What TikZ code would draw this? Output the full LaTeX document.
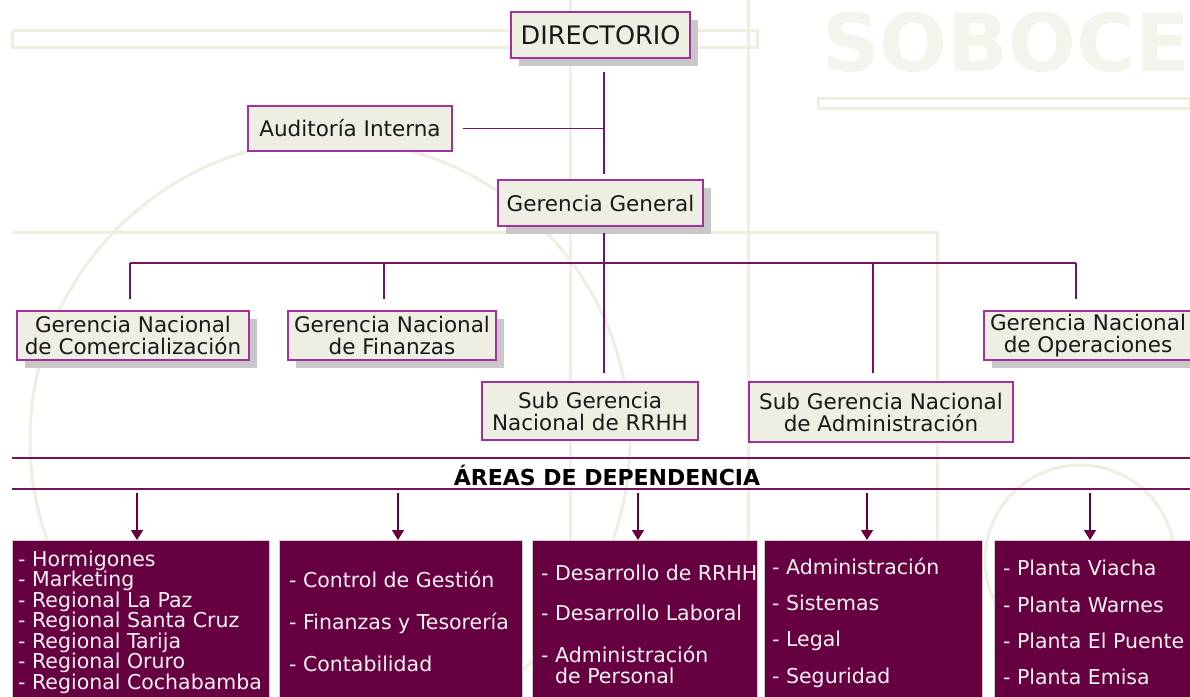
\documentclass[tikz,border=0pt]{standalone}
\usepackage{fontspec}
\setmainfont{DejaVu Sans}
\usetikzlibrary{arrows.meta,shadows,calc}
\definecolor{boxfill}{HTML}{EEEEE2}
\definecolor{boxline}{HTML}{A3309C}
\definecolor{conn}{HTML}{7A1060}
\definecolor{dark}{HTML}{660040}
\definecolor{wm}{HTML}{EEEEE1}
\definecolor{wmtext}{HTML}{F4F4EC}
\definecolor{shade}{HTML}{C8C8C8}
\definecolor{lighttext}{HTML}{F6F2F2}
\begin{document}
\begin{tikzpicture}[x=1pt,y=-1pt,
  orgbox/.style={draw=boxline, line width=1.6pt, fill=boxfill, align=center, inner sep=0pt, text=black!90, font=\fontsize{21.5}{22}\selectfont},
  shadowed/.style={general shadow={fill=shade, shadow xshift=8pt, shadow yshift=-8pt}},
  link/.style={draw=conn, line width=1.4pt},
  arrowlink/.style={draw=dark, line width=1.6pt, -{Triangle[width=12pt,length=10pt]}},
  darkbox/.style={fill=dark, draw=black!20, line width=0.8pt, anchor=north west, inner sep=0pt},
  listtext/.style={text=lighttext, align=left, anchor=west, inner sep=0pt, font=\fontsize{20.5}{20.5}\selectfont},
  wmline/.style={draw=wm, line width=3pt}
]
\useasboundingbox (0,0) rectangle (1190,696);
\fill[white] (0,0) rectangle (1190,696);
% watermark
\draw[wmline] (12,30) rectangle (757,47);
\draw[wmline] (818,98) rectangle (1190,108);
\draw[wmline] (12,232) -- (937,232) -- (937,696);
\draw[wmline] (748,0) -- (748,696);
\draw[wmline] (570,0) -- (570,696);
\draw[wmline] (330,440) circle (300);
\draw[wmline] (1080,560) circle (95);
\node[text=wmtext, inner sep=0pt, font=\bfseries\fontsize{80}{80}\selectfont] (logo) at (1006,42) {SOBOCE};
% org boxes
\node[orgbox, shadowed, minimum width=179pt, minimum height=46pt, font=\fontsize{25.5}{26}\selectfont] (dir) at (600.5,35) {DIRECTORIO};
\node[orgbox, minimum width=204pt, minimum height=45pt] (aud) at (350,128.5) {Auditoría Interna};
\node[orgbox, shadowed, minimum width=205pt, minimum height=46pt] (gg) at (600.5,203) {Gerencia General};
\node[orgbox, shadowed, minimum width=232pt, minimum height=49pt] (gnc) at (133,335.5) {Gerencia Nacional\\de Comercialización};
\node[orgbox, shadowed, minimum width=208pt, minimum height=49pt] (gnf) at (392,335.5) {Gerencia Nacional\\de Finanzas};
\node[orgbox, shadowed, minimum width=208pt, minimum height=49pt] (gno) at (1088,335.5) {Gerencia Nacional\\de Operaciones};
\node[orgbox, minimum width=216pt, minimum height=58pt] (rrhh) at (590,411) {Sub Gerencia\\Nacional de RRHH};
\node[orgbox, minimum width=264pt, minimum height=60pt] (adm) at (881,412) {Sub Gerencia Nacional\\de Administración};
% connectors
\coordinate (d1) at (604,72);
\coordinate (g1) at (604,174);
\draw[link] (d1) -- (g1);
\draw[link] ([xshift=10pt]aud.east) -- (aud.east -| d1);
\coordinate (hL) at (130,263);
\coordinate (hF) at (384,263);
\coordinate (hA) at (873,263);
\coordinate (hR) at (1076,263);
\draw[link] (hL) -- (hR);
\draw[link] ([yshift=-6pt]gg.south -| d1) -- ([yshift=8pt]rrhh.north -| d1);
\draw[link] (hL) -- ([yshift=11pt]gnc.north -| hL);
\draw[link] (hF) -- ([yshift=11pt]gnf.north -| hF);
\draw[link] (hR) -- ([yshift=11pt]gno.north -| hR);
\draw[link] (hA) -- ([yshift=8pt]adm.north -| hA);
% areas de dependencia
\coordinate (la1) at (12,458);
\coordinate (lb1) at (1190,458);
\coordinate (la2) at (12,489);
\coordinate (lb2) at (1190,489);
\draw[link] (la1) -- (lb1);
\draw[link] (la2) -- (lb2);
\node[inner sep=0pt, font=\bfseries\fontsize{22}{22}\selectfont, text=black] (title) at (607,475) {ÁREAS DE DEPENDENCIA};
% dark boxes
\node[darkbox, minimum width=257pt, minimum height=170pt] (b1) at (12,540) {};
\node[darkbox, minimum width=243pt, minimum height=170pt] (b2) at (279,540) {};
\node[darkbox, minimum width=225pt, minimum height=170pt] (b3) at (532,540) {};
\node[darkbox, minimum width=218pt, minimum height=170pt] (b4) at (764,540) {};
\node[darkbox, minimum width=210pt, minimum height=170pt] (b5) at (994,540) {};
% arrows
\coordinate (a1) at (137,493);
\coordinate (a2) at (398,493);
\coordinate (a3) at (638,493);
\coordinate (a4) at (867,493);
\coordinate (a5) at (1090,493);
\draw[arrowlink] (a1) -- (a1 |- b1.north);
\draw[arrowlink] (a2) -- (a2 |- b2.north);
\draw[arrowlink] (a3) -- (a3 |- b3.north);
\draw[arrowlink] (a4) -- (a4 |- b4.north);
\draw[arrowlink] (a5) -- (a5 |- b5.north);
% list texts
\node[listtext] (t1) at (18,622) {- Hormigones\\- Marketing\\- Regional La Paz\\- Regional Santa Cruz\\- Regional Tarija\\- Regional Oruro\\- Regional Cochabamba};
\node[listtext] (t2) at (289,621.5) {- Control de Gestión\\[21.5pt]- Finanzas y Tesorería\\[21.5pt]- Contabilidad};
\node[listtext] (t3) at (541,624.5) {- Desarrollo de RRHH\\[19.5pt]- Desarrollo Laboral\\[21.5pt]- Administración\\\hspace*{14pt}de Personal};
\node[listtext] (t4) at (772,622.5) {- Administración\\[15.8pt]- Sistemas\\[15.8pt]- Legal\\[15.8pt]- Seguridad};
\node[listtext] (t5) at (1003,622.5) {- Planta Viacha\\[15.8pt]- Planta Warnes\\[15.8pt]- Planta El Puente\\[15.8pt]- Planta Emisa};
\end{tikzpicture}
\end{document}
